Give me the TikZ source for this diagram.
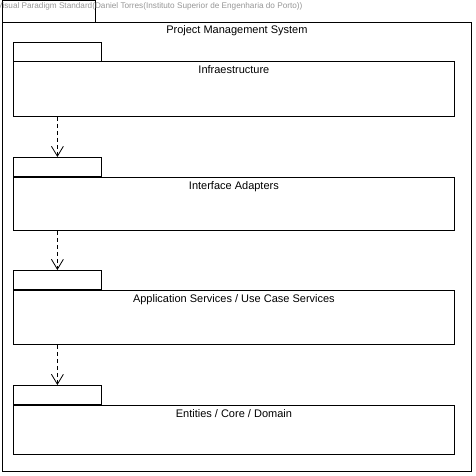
\documentclass[tikz,border=0pt]{standalone}
\usepackage{fontspec}
\setmainfont{Liberation Sans}
\usetikzlibrary{positioning,arrows.meta}

\definecolor{vpgray}{RGB}{150,150,150}

\tikzset{
  frame/.style={draw=black, line width=0.8pt, anchor=north west, inner sep=0pt, minimum width=469pt, minimum height=449pt},
  frametab/.style={draw=black, line width=0.8pt, anchor=north west, inner sep=0pt, minimum width=93pt, minimum height=22pt},
  pkgtab/.style={draw=black, line width=0.8pt, anchor=north west, inner sep=0pt, minimum width=88pt, minimum height=19pt},
  pkgbody/.style={draw=black, line width=0.8pt, anchor=north west, inner sep=0pt, minimum width=441pt},
  pkglabel/.style={inner sep=0pt, font=\fontsize{11}{13}\selectfont},
  dep/.style={draw=black, line width=0.8pt, dash pattern=on 4pt off 3pt, -{Straight Barb[length=10pt,width=12pt]}}
}

\begin{document}
\begin{tikzpicture}[x=1pt,y=-1pt]
\useasboundingbox (0,0) rectangle (475,476);
% system frame
\node[frametab] (sysTab) at (2,0) {};
\node[frame] (sys) at (2,22) {};
\node[anchor=west, inner sep=0pt, text=vpgray, font=\fontsize{8.2}{9}\selectfont] (sysCaption) at (-3,6.5) {Visual Paradigm Standard(Daniel Torres(Instituto Superior de Engenharia do Porto))};
\node[pkglabel, below=3pt of sys.north] (sysText) {Project Management System};
% packages
\node[pkgtab] (infraTab) at (13,42) {};
\node[pkgbody, minimum height=55pt] (infra) at (13,61) {};
\node[pkglabel, below=4pt of infra.north] (infraText) {Infraestructure};
\node[pkgtab] (ifaceTab) at (13,157) {};
\node[pkgbody, minimum height=53pt] (iface) at (13,177) {};
\node[pkglabel, below=4pt of iface.north] (ifaceText) {Interface Adapters};
\node[pkgtab] (appTab) at (13,270) {};
\node[pkgbody, minimum height=54pt] (app) at (13,290) {};
\node[pkglabel, below=4pt of app.north] (appText) {Application Services / Use Case Services};
\node[pkgtab] (coreTab) at (13,385) {};
\node[pkgbody, minimum height=49pt] (core) at (13,405) {};
\node[pkglabel, below=4pt of core.north] (coreText) {Entities / Core / Domain};
% dependencies
\draw[dep] (infra.south -| infraTab.south) -- (ifaceTab.north);
\draw[dep] (iface.south -| ifaceTab.south) -- (appTab.north);
\draw[dep] (app.south -| appTab.south) -- (coreTab.north);
\end{tikzpicture}
\end{document}
